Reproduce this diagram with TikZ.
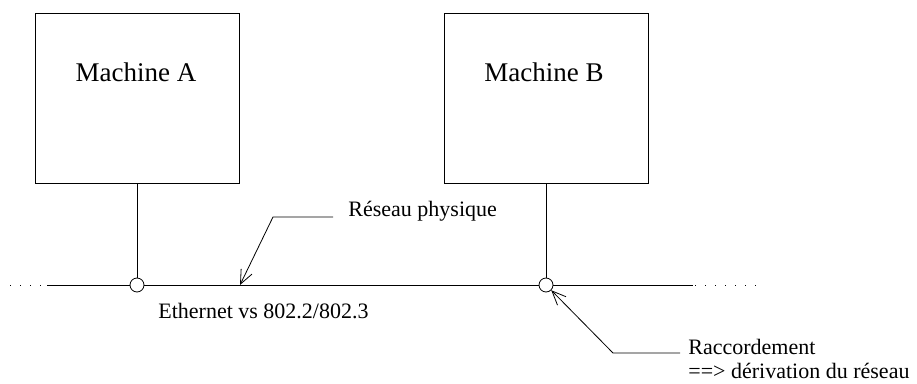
\documentclass[tikz,border=0pt]{standalone}
\usepackage{fontspec}
\setmainfont{Liberation Serif}
\usetikzlibrary{arrows.meta}
\begin{document}
\begin{tikzpicture}[x=1pt,y=-1pt,line width=0.8pt,
  machine/.style={draw,rectangle,minimum width=204pt,minimum height=170pt,inner sep=0pt},
  jonction/.style={draw,circle,fill=white,minimum size=14pt,inner sep=0pt},
  bigtxt/.style={font=\fontsize{27}{30}\selectfont,inner sep=0pt,anchor=base},
  smalltxt/.style={font=\fontsize{22}{26}\selectfont,inner sep=0pt,anchor=base west},
  pointer/.style={-{Straight Barb[length=14pt,width=12pt,line width=0.8pt]}},
  dots/.style={dash pattern=on 1.2pt off 8.8pt}]
\useasboundingbox (0,0) rectangle (917,383);
% machines
\node[machine] (A) at (137,98) {};
\node[machine] (B) at (546,98) {};
\node[bigtxt] (Atxt) at (136,81) {Machine A};
\node[bigtxt] (Btxt) at (544,81) {Machine B};
% junctions
\node[jonction] (cA) at (137,285) {};
\node[jonction] (cB) at (546,285) {};
\draw (A.south) -- (cA.north);
\draw (B.south) -- (cB.north);
% bus
\coordinate (L) at (47,285);
\coordinate (R) at (693,285);
\coordinate (Ld) at (10,285);
\coordinate (Rd) at (760,285);
\draw (L) -- (cA.west);
\draw (cA.east) -- (cB.west);
\draw (cB.east) -- (R);
\draw[dots] (Ld) -- (44,285);
\draw[dots] (695,285) -- (Rd);
% labels
\node[smalltxt] (eth) at (158,318) {Ethernet vs 802.2/802.3};
\node[smalltxt] (res) at (348,216) {Réseau physique};
\node[smalltxt] (rac) at (688,354) {Raccordement};
\node[smalltxt] (der) at (688,378) {==> dérivation du réseau};
% pointers
\coordinate (p1) at (333,217);
\coordinate (p2) at (273,217);
\coordinate (bus1) at (240,285);
\draw[pointer] (p1) -- (p2) -- (bus1);
\coordinate (q1) at (680,353);
\coordinate (q2) at (613,353);
\draw[pointer] (q1) -- (q2) -- (cB.-45);
\end{tikzpicture}
\end{document}
